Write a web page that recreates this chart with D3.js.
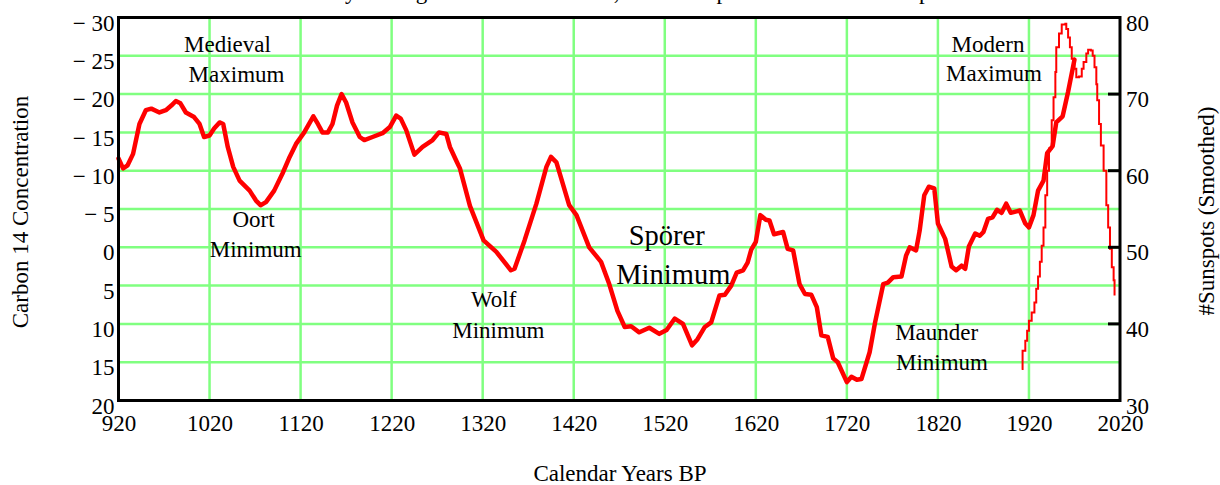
<!DOCTYPE html>
<html>
<head>
<meta charset="utf-8">
<script src="https://cdn.jsdelivr.net/npm/d3@7"></script>
<style>
  html, body { margin: 0; padding: 0; background: #fff; }
  svg { display: block; }
  text { font-family: "Liberation Serif", "Times New Roman", serif; fill: #000; }
</style>
</head>
<body>
<svg id="chart" width="1220" height="485"></svg>
<script>
// Radiocarbon (C-14) anomaly record, calendar year vs concentration (axis inverted)
const c14Years = [920, 925, 930, 936, 943, 950, 956, 965, 972, 978, 983, 988, 994, 1003, 1009, 1014,
  1020, 1025, 1031, 1035, 1040, 1046, 1053, 1064, 1071, 1076, 1082, 1091, 1100, 1108, 1115, 1124,
  1134, 1139, 1144, 1150, 1155, 1160, 1165, 1170, 1177, 1185, 1190, 1199, 1210, 1218, 1225, 1230,
  1236, 1245, 1254, 1265, 1272, 1280, 1284, 1291, 1295, 1306, 1321, 1335, 1351, 1355, 1366, 1379,
  1390, 1395, 1401, 1415, 1423, 1437, 1450, 1459, 1468, 1476, 1483, 1492, 1503, 1514, 1522, 1531,
  1540, 1550, 1556, 1564, 1571, 1580, 1586, 1593, 1599, 1606, 1611, 1615, 1620, 1625, 1631, 1635,
  1640, 1650, 1655, 1661, 1668, 1674, 1681, 1687, 1692, 1699, 1705, 1710, 1720, 1725, 1731, 1736,
  1745, 1751, 1760, 1765, 1771, 1780, 1785, 1789, 1796, 1800, 1805, 1810, 1816, 1820, 1828, 1835,
  1840, 1846, 1850, 1854, 1861, 1866, 1870, 1875, 1880, 1885, 1890, 1895, 1900, 1910, 1916, 1920,
  1925, 1930, 1936, 1940, 1946, 1950, 1957, 1963, 1970];
const c14Values = [-11.6, -10.3, -10.7, -12.2, -16.1, -17.9, -18.1, -17.6, -17.9, -18.5, -19.1, -18.8, -17.6, -17.0, -16.1, -14.4,
  -14.6, -15.5, -16.3, -16.1, -13.1, -10.5, -8.7, -7.4, -6.1, -5.5, -5.9, -7.4, -9.6, -11.8, -13.5, -15.0,
  -17.1, -16.1, -15.0, -15.0, -16.1, -18.5, -20.0, -18.9, -16.3, -14.4, -14.0, -14.4, -14.9, -15.7, -17.2, -16.8,
  -15.3, -12.1, -13.1, -14.0, -15.0, -14.8, -13.1, -11.3, -10.3, -5.4, -0.9, 0.6, 3.0, 2.8, -0.9, -5.7,
  -10.5, -11.8, -11.1, -5.5, -4.2, 0.0, 1.9, 4.8, 8.3, 10.4, 10.3, 11.1, 10.5, 11.3, 10.8, 9.3,
  10.0, 12.8, 12.0, 10.4, 9.8, 6.3, 6.2, 5.0, 3.3, 3.0, 2.0, 0.3, -0.7, -4.2, -3.6, -3.5,
  -1.7, -2.0, 0.2, 0.4, 4.8, 6.1, 6.2, 7.8, 11.5, 11.7, 14.5, 15.0, 17.6, 16.9, 17.3, 17.2,
  13.7, 9.8, 4.8, 4.6, 3.9, 3.8, 1.1, 0.0, 0.4, -2.2, -6.8, -7.9, -7.7, -3.1, -1.1, 2.5,
  3.0, 2.4, 2.8, -0.1, -1.8, -1.5, -2.0, -3.7, -3.9, -4.9, -4.5, -5.7, -4.5, -4.8, -3.1, -2.6,
  -4.2, -7.4, -8.7, -12.3, -13.2, -16.3, -17.1, -20.3, -24.5];

// Smoothed sunspot numbers (right axis)
const sunYears = [1912, 1913, 1916, 1918, 1920, 1923, 1926, 1928, 1930, 1932, 1934, 1936, 1938, 1940, 1942, 1945,
  1947, 1949, 1950, 1953, 1956, 1960, 1961, 1963, 1965, 1967, 1970, 1972, 1975, 1978, 1980, 1983,
  1985, 1988, 1990, 1992, 1994, 1995, 1997, 1999, 2002, 2005, 2007, 2009, 2011, 2013, 2014];
const sunValues = [34.1, 36.5, 37.8, 39.1, 40.4, 41.5, 42.8, 44.6, 46.2, 48.1, 50.2, 52.6, 56.8, 60.0, 62.9, 66.6,
  69.6, 72.9, 76.1, 77.9, 79.1, 79.2, 78.5, 77.4, 76.1, 74.6, 73.3, 72.2, 72.3, 73.3, 74.2, 75.3,
  75.8, 75.7, 75.0, 73.5, 71.3, 69.2, 66.1, 63.3, 60.0, 55.5, 52.6, 49.8, 47.4, 45.7, 43.7];

// Tick values
const xTicks = [920, 1020, 1120, 1220, 1320, 1420, 1520, 1620, 1720, 1820, 1920, 2020];
const leftTicks = [-30, -25, -20, -15, -10, -5, 0, 5, 10, 15, 20];
const rightTicks = [30, 40, 50, 60, 70, 80];
const rightTickMarks = [40, 50, 60, 70];

// Period labels
const periodLabels = [
  ["Medieval", "Maximum"],
  ["Oort", "Minimum"],
  ["Wolf", "Minimum"],
  ["Spörer", "Minimum"],
  ["Maunder", "Minimum"],
  ["Modern", "Maximum"]
];

// ---- layout ----
const W = 1220, H = 485;
const plot = { left: 118.5, right: 1120, top: 17.5, bottom: 400.5 };
const FONT = '"Liberation Serif", "Times New Roman", serif';
const GRID = "#80ff80";
const RED = "#ff0000";

// label placement: [line1 x, line1 baseline, line2 x, line2 baseline, font size]
const labelLayout = [
  [227.5, 52, 236.5, 81.5, 23],
  [253.5, 227, 255.7, 257, 23],
  [493.7, 307, 498.3, 337.5, 23],
  [666.7, 245, 673.3, 283.5, 28.5],
  [936.7, 340, 942, 369.5, 23],
  [988, 52, 994, 81, 23]
];

const svg = d3.select("#chart");
svg.append("rect").attr("width", W).attr("height", H).attr("fill", "#fff");

const x = d3.scaleLinear().domain([920, 2020]).range([plot.left, plot.right]);
const yC = d3.scaleLinear().domain([-30, 20]).range([plot.top, plot.bottom]);
const yS = d3.scaleLinear().domain([80, 30]).range([plot.top, plot.bottom]);

// title (runs off the top edge)
svg.append("text")
  .attr("x", 228).attr("y", -1)
  .attr("text-anchor", "start")
  .attr("font-size", 23)
  .text("Solar Activity During the Last 1100 Years, with Sunspot Numbers for Comparison");

// grid
const grid = svg.append("g").attr("class", "grid");
grid.selectAll("line.h")
  .data(leftTicks.slice(1, -1))
  .join("line")
  .attr("class", "h")
  .attr("x1", plot.left).attr("x2", plot.right)
  .attr("y1", d => yC(d)).attr("y2", d => yC(d))
  .attr("stroke", GRID).attr("stroke-width", 2.5);
grid.selectAll("line.v")
  .data(xTicks.slice(1, -1))
  .join("line")
  .attr("class", "v")
  .attr("x1", d => x(d)).attr("x2", d => x(d))
  .attr("y1", plot.top).attr("y2", plot.bottom)
  .attr("stroke", GRID).attr("stroke-width", 2.5);

// sunspot step line
const sunData = sunYears.map((yr, i) => ({ year: yr, v: sunValues[i] }));
svg.append("path")
  .datum(sunData)
  .attr("fill", "none")
  .attr("stroke", RED)
  .attr("stroke-width", 2)
  .attr("d", d3.line().x(d => x(d.year)).y(d => yS(d.v)).curve(d3.curveStepAfter));

// C-14 line
const c14Data = c14Years.map((yr, i) => ({ year: yr, v: c14Values[i] }));
svg.append("path")
  .datum(c14Data)
  .attr("fill", "none")
  .attr("stroke", RED)
  .attr("stroke-width", 4.5)
  .attr("stroke-linejoin", "round")
  .attr("stroke-linecap", "round")
  .attr("d", d3.line().x(d => x(d.year)).y(d => yC(d.v)));

// right-axis inner tick marks
svg.append("g").selectAll("line")
  .data(rightTickMarks)
  .join("line")
  .attr("x1", plot.right - 12).attr("x2", plot.right)
  .attr("y1", d => yS(d)).attr("y2", d => yS(d))
  .attr("stroke", "#000").attr("stroke-width", 3);

// frame
svg.append("rect")
  .attr("x", plot.left).attr("y", plot.top)
  .attr("width", plot.right - plot.left).attr("height", plot.bottom - plot.top)
  .attr("fill", "none").attr("stroke", "#000").attr("stroke-width", 3);

// axes (labels only)
function styleAxis(g) {
  g.attr("font-family", FONT).attr("font-size", 23);
  g.select(".domain").remove();
  g.selectAll(".tick line").remove();
  g.selectAll("text").attr("fill", "#000");
}

const leftAxis = svg.append("g")
  .attr("transform", `translate(${plot.left},0)`)
  .call(d3.axisLeft(yC).tickValues(leftTicks).tickSize(0).tickPadding(4)
    .tickFormat(d => d < 0 ? "\u2212 " + (-d) : String(d)))
  .call(styleAxis);
leftAxis.selectAll("text").attr("dy", "0.55em");

const rightAxis = svg.append("g")
  .attr("transform", `translate(${plot.right},0)`)
  .call(d3.axisRight(yS).tickValues(rightTicks).tickSize(0).tickPadding(6).tickFormat(d3.format("d")))
  .call(styleAxis);
rightAxis.selectAll("text").attr("dy", "0.55em");

const bottomAxis = svg.append("g")
  .attr("transform", `translate(0,${plot.bottom})`)
  .call(d3.axisBottom(x).tickValues(xTicks).tickSize(0).tickFormat(d3.format("d")))
  .call(styleAxis);
bottomAxis.selectAll("text").attr("y", 30).attr("dy", 0);

// axis titles
svg.append("text")
  .attr("x", 620).attr("y", 481)
  .attr("text-anchor", "middle").attr("font-size", 23)
  .text("Calendar Years BP");
svg.append("text")
  .attr("transform", "translate(28,212) rotate(-90)")
  .attr("text-anchor", "middle").attr("font-size", 23)
  .text("Carbon 14 Concentration");
svg.append("text")
  .attr("transform", "translate(1214,211) rotate(-90)")
  .attr("text-anchor", "middle").attr("font-size", 23)
  .text("#Sunspots (Smoothed)");

// period labels
periodLabels.forEach((lines, i) => {
  const [x1, y1, x2, y2, fs] = labelLayout[i];
  svg.append("text").attr("x", x1).attr("y", y1).attr("text-anchor", "middle")
    .attr("font-size", fs).text(lines[0]);
  svg.append("text").attr("x", x2).attr("y", y2).attr("text-anchor", "middle")
    .attr("font-size", fs).text(lines[1]);
});
</script>
</body>
</html>
